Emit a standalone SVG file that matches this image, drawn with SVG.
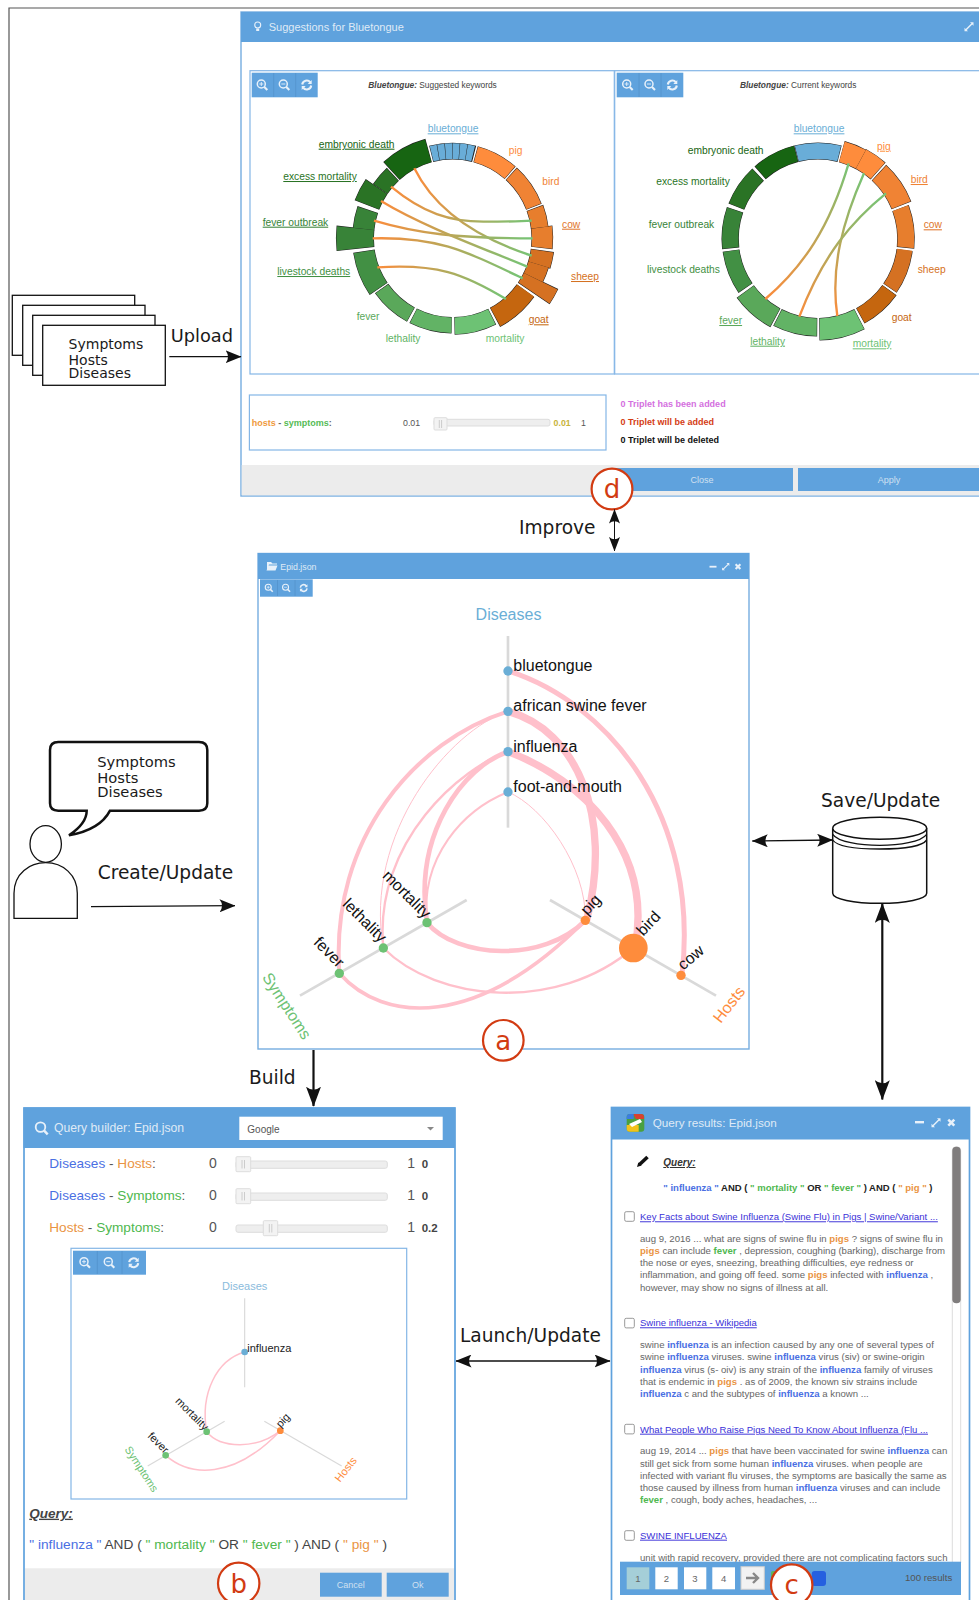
<svg xmlns="http://www.w3.org/2000/svg" width="979" height="1600" viewBox="0 0 979 1600">
<style>
text{font-family:"Liberation Sans",Arial,sans-serif}
.dj{font-family:"DejaVu Sans",sans-serif;fill:#1a1a1a}
.big{font-size:18.6px}
.doc{font-size:14px}
.bub{font-size:14.7px}
.u{text-decoration:underline}
.lb .u{text-decoration-color:#777}
.hd{fill:#5fa2dd}
.fr{fill:#fff;stroke:#76ade0;stroke-width:1.4}
.fb{fill:#fff;stroke:#5fa2dd;stroke-width:1.7}
.sub{fill:#fff;stroke:#84b6e6;stroke-width:1.2}
.wt{fill:#dfeaf6}
.ic{fill:none;stroke:#e8f1fa;stroke-width:1.5}
.ih{fill:none;stroke:#e8f1fa;stroke-width:2.1}
.is{fill:none;stroke:#e8f1fa;stroke-width:.9}
.div{stroke:#5392cc;stroke-width:.8}
.ol{fill:none;stroke:#222}
.sg{fill:none}
.lk{fill:none;stroke:#ffc0cb}
.ax{stroke:#d9d9d9;fill:none}
.cl{fill:#fff;stroke:#d23b12;stroke-width:2.2}
.clt{font-family:"DejaVu Sans",sans-serif;font-size:26px;fill:#d23b12;text-anchor:middle}
.lb{font-size:10.25px}
.k{font-size:16px;fill:#111}
.m{font-size:11px;fill:#222}
.tr{fill:#eee;stroke:#ddd;stroke-width:1}
.hn{fill:#f3f3f3;stroke:#ddd;stroke-width:1}
.bl{fill:#4a6fe3}.or{fill:#ea9443}.gr{fill:#4fb84f}
.sn{font-size:9.6px;fill:#666}
.sn tspan{font-weight:bold}
.lnk{font-size:9.55px;fill:#3a30d8;text-decoration:underline}
.cb{fill:#fff;stroke:#999;stroke-width:1}
.pg{fill:#fff}
.btx{font-size:9px;fill:#cfe0f1;text-anchor:middle}
.bk{stroke:#111;stroke-width:1.3;fill:#fff}
.c1{fill:none;stroke:#111;stroke-width:1.3}
.c2{fill:none;stroke:#111;stroke-width:2.2}
.c3{fill:none;stroke:#111;stroke-width:1}
</style>
<defs>
<linearGradient id="gh" x1="0" x2="1" y1="0" y2="0"><stop offset="0" stop-color="#fb8c3c"/><stop offset="1" stop-color="#74c476"/></linearGradient>
<linearGradient id="gv" x1="0" x2="0" y1="0" y2="1"><stop offset="0" stop-color="#74c476"/><stop offset="1" stop-color="#fb8c3c"/></linearGradient>
<marker id="ar" viewBox="0 0 16 14" preserveAspectRatio="none" refX="15.5" refY="7" markerUnits="userSpaceOnUse" markerWidth="16" markerHeight="13" orient="auto-start-reverse"><path d="M16,7 L0,0 Q5,7 0,14 Z" fill="#111"/></marker>
<marker id="as" viewBox="0 0 16 14" preserveAspectRatio="none" refX="15.5" refY="7" markerUnits="userSpaceOnUse" markerWidth="14.5" markerHeight="11" orient="auto-start-reverse"><path d="M16,7 L0,0 Q5,7 0,14 Z" fill="#111"/></marker>
<marker id="al" viewBox="0 0 16 14" preserveAspectRatio="none" refX="15.5" refY="7" markerUnits="userSpaceOnUse" markerWidth="20" markerHeight="15" orient="auto-start-reverse"><path d="M16,7 L0,0 Q5,7 0,14 Z" fill="#111"/></marker>
<g id="zi"><circle cx="-1" cy="-1" r="4" class="ic"/><path d="M2,2 L5,5" class="ih"/><path d="M-3,-1 H1 M-1,-3 V1" class="is"/></g>
<g id="zo"><circle cx="-1" cy="-1" r="4" class="ic"/><path d="M2,2 L5,5" class="ih"/><path d="M-3,-1 H1" class="is"/></g>
<g id="re"><path d="M-4.5,-.5 A4.5,4.5 0 0 1 3.6,-2.6 M4.5,.5 A4.5,4.5 0 0 1 -3.6,2.6" class="ih"/><path d="M5,-5 V-1 H1 Z M-5,5 V1 H-1 Z" fill="#e8f1fa"/></g>
<g id="ex"><path d="M-3,3 L3,-3" class="ic"/><path d="M1,-4.5 H4.5 V-1 Z M-1,4.5 H-4.5 V1 Z" fill="#e8f1fa"/></g>
<g id="cr"><path d="M-3,-3 L3,3 M3,-3 L-3,3" class="ih" style="stroke-width:2.6"/></g>
</defs>
<rect width="979" height="1600" fill="#fff"/>
<path d="M979,8 H9 V1600" fill="none" stroke="#555" stroke-width="1.2"/>

<g id="node-suggestions">
<rect x="241" y="12" width="745" height="484" class="fr"/>
<rect x="241" y="12" width="745" height="30" class="hd"/>
<rect x="241.7" y="465" width="745" height="30.3" fill="#ececec"/>
<circle cx="257.7" cy="25" r="3" fill="none" stroke="#e8f1fa" stroke-width="1.1"/><path d="M256.2,28.5 h3 v2.5 h-3 Z" fill="#e8f1fa"/>
<text x="268.7" y="30.7" font-size="11" class="wt">Suggestions for Bluetongue</text>
<use href="#ex" x="969" y="26.7"/>
<rect x="250" y="70.7" width="364.3" height="303.3" class="sub"/>
<rect x="614.7" y="70.7" width="370" height="303.3" class="sub"/>
<rect x="251.7" y="72.7" width="66" height="24.6" class="hd"/><path d="M273.7,73 V97 M295.7,73 V97" class="div"/>
<use href="#zi" x="262.3" y="85"/><use href="#zo" x="284.3" y="85"/><use href="#re" x="306.7" y="85"/>
<rect x="616.7" y="72.7" width="66.6" height="24.6" class="hd"/><path d="M639,73 V97 M661,73 V97" class="div"/>
<use href="#zi" x="627.7" y="85"/><use href="#zo" x="650" y="85"/><use href="#re" x="672.3" y="85"/>
<text x="368.3" y="87.7" font-size="8.35" fill="#444"><tspan font-weight="bold" font-style="italic">Bluetongue:</tspan> Suggested keywords</text>
<text x="740" y="87.7" font-size="8.35" fill="#444"><tspan font-weight="bold" font-style="italic">Bluetongue:</tspan> Current keywords</text>

<g id="chart-suggested" transform="translate(452.7 238.3)">
<g class="ol">
<circle r="87.15" pathLength="360" stroke-width="16.7" stroke-dasharray="28.6 332" transform="rotate(255.7)"/>
<circle r="87.15" pathLength="360" stroke-width="16.7" stroke-dasharray="26.1 334" transform="rotate(-74.8)"/>
<circle r="87.15" pathLength="360" stroke-width="16.7" stroke-dasharray="26.6 334" transform="rotate(-47.8)"/>
<circle r="87.65" pathLength="360" stroke-width="17.7" stroke-dasharray="13.6 347" transform="rotate(-20.3)"/>
<circle r="89.65" pathLength="360" stroke-width="21.7" stroke-dasharray="13.6 347" transform="rotate(-7.3)"/>
<circle r="90.5" pathLength="360" stroke-width="23.4" stroke-dasharray="9.6 351" transform="rotate(7.7)"/>
<circle r="89.65" pathLength="360" stroke-width="21.7" stroke-dasharray="9.6 351" transform="rotate(16.7)"/>
<circle r="98" pathLength="360" stroke-width="38.4" stroke-dasharray="8.6 352" transform="rotate(25.7)"/>
<circle r="89.65" pathLength="360" stroke-width="21.7" stroke-dasharray="26.2 334" transform="rotate(35.7)"/>
<circle r="87.65" pathLength="360" stroke-width="17.7" stroke-dasharray="25.7 335" transform="rotate(63.2)"/>
<circle r="87" pathLength="360" stroke-width="16.4" stroke-dasharray="26.4 334" transform="rotate(90.7)"/>
<circle r="87" pathLength="360" stroke-width="16.4" stroke-dasharray="26.1 334" transform="rotate(118.7)"/>
<circle r="89.65" pathLength="360" stroke-width="21.7" stroke-dasharray="26.1 334" transform="rotate(145.7)"/>
<circle r="97.8" pathLength="360" stroke-width="38" stroke-dasharray="12.6 348" transform="rotate(173.7)"/>
<circle r="89.65" pathLength="360" stroke-width="21.7" stroke-dasharray="13.1 347" transform="rotate(185.7)"/>
<circle r="92" pathLength="360" stroke-width="26.4" stroke-dasharray="13.1 347" transform="rotate(201.2)"/>
<circle r="87.65" pathLength="360" stroke-width="17.7" stroke-dasharray="12.8 348" transform="rotate(214.2)"/>
<circle r="91" pathLength="360" stroke-width="24.4" stroke-dasharray="27 333" transform="rotate(227.7)"/>
</g>
<g class="sg">
<circle r="87.15" pathLength="360" stroke="#69add8" stroke-width="15.7" stroke-dasharray="4.35 .3 4.35 .3 4.35 .3 4.35 .3 4.35 .3 4.35 340" transform="rotate(256)"/>
<circle r="87.15" pathLength="360" stroke="#fe8c3c" stroke-width="15.7" stroke-dasharray="25.5 335" transform="rotate(-74.5)"/>
<circle r="87.15" pathLength="360" stroke="#f08334" stroke-width="15.7" stroke-dasharray="26 334" transform="rotate(-47.5)"/>
<circle r="87.65" pathLength="360" stroke="#e77e2d" stroke-width="16.7" stroke-dasharray="13 347" transform="rotate(-20)"/>
<circle r="89.65" pathLength="360" stroke="#e77e2d" stroke-width="20.7" stroke-dasharray="13 347" transform="rotate(-7)"/>
<circle r="90.5" pathLength="360" stroke="#d57122" stroke-width="22.4" stroke-dasharray="9 351" transform="rotate(8)"/>
<circle r="89.65" pathLength="360" stroke="#d57122" stroke-width="20.7" stroke-dasharray="9 351" transform="rotate(17)"/>
<circle r="98" pathLength="360" stroke="#d57122" stroke-width="37.4" stroke-dasharray="8 352" transform="rotate(26)"/>
<circle r="89.65" pathLength="360" stroke="#c5660f" stroke-width="20.7" stroke-dasharray="25.6 334" transform="rotate(36)"/>
<circle r="87.65" pathLength="360" stroke="#6dc274" stroke-width="16.7" stroke-dasharray="25.1 335" transform="rotate(63.5)"/>
<circle r="87" pathLength="360" stroke="#62b365" stroke-width="15.4" stroke-dasharray="25.8 334" transform="rotate(91)"/>
<circle r="87" pathLength="360" stroke="#5aa85a" stroke-width="15.4" stroke-dasharray="25.5 335" transform="rotate(119)"/>
<circle r="89.65" pathLength="360" stroke="#429044" stroke-width="20.7" stroke-dasharray="25.5 335" transform="rotate(146)"/>
<circle r="97.8" pathLength="360" stroke="#388338" stroke-width="37" stroke-dasharray="12 348" transform="rotate(174)"/>
<circle r="89.65" pathLength="360" stroke="#388338" stroke-width="20.7" stroke-dasharray="12.5 348" transform="rotate(186)"/>
<circle r="92" pathLength="360" stroke="#2a7325" stroke-width="25.4" stroke-dasharray="12.5 348" transform="rotate(201.5)"/>
<circle r="87.65" pathLength="360" stroke="#2a7325" stroke-width="16.7" stroke-dasharray="12.2 348" transform="rotate(214.5)"/>
<circle r="91" pathLength="360" stroke="#176512" stroke-width="23.4" stroke-dasharray="26.4 334" transform="rotate(228)"/>
</g>
</g>
<g transform="translate(230 0) scale(.33333)" fill="none" stroke="url(#gh)" stroke-width="7">
<path d="M553,505 C620,640 760,720 905,767"/>
<path d="M483,560 C580,640 660,665 760,665 S860,665 905,662"/>
<path d="M453,603 C580,680 760,745 892,800"/>
<path d="M432,662 C560,700 680,715 908,715"/>
<path d="M428,715 C620,710 700,750 878,835"/>
<path d="M442,802 C620,790 700,820 828,897"/>
</g>
<g class="lb">
<text x="427.7" y="132.3" fill="#6aaed6" class="u">bluetongue</text>
<text x="508.7" y="154.3" fill="#fe8c3c">pig</text>
<text x="542.3" y="185" fill="#f08334">bird</text>
<text x="562" y="227.7" fill="#e0752a" class="u">cow</text>
<text x="571" y="280" fill="#d57122" class="u">sheep</text>
<text x="528.7" y="323.3" fill="#c5660f" class="u">goat</text>
<text x="485.7" y="341.7" fill="#6dc274">mortality</text>
<text x="385.7" y="341.7" fill="#62b365">lethality</text>
<text x="356.7" y="320" fill="#5aa85a">fever</text>
<text x="277.3" y="275" fill="#429044" class="u">livestock deaths</text>
<text x="262.7" y="225.7" fill="#388338" class="u">fever outbreak</text>
<text x="283.3" y="180" fill="#2a7325" class="u">excess mortality</text>
<text x="318.7" y="147.7" fill="#176512" class="u">embryonic death</text>
</g>

<g id="chart-current" transform="translate(818 238.7)">
<g class="ol">
<circle r="87.7" pathLength="360" stroke-width="17" stroke-dasharray="28.6 332" transform="rotate(255.7)"/>
<circle r="90.2" pathLength="360" stroke-width="22" stroke-dasharray="13.4 347" transform="rotate(-74.7)"/>
<circle r="90.5" pathLength="360" stroke-width="22.6" stroke-dasharray="13.6 347" transform="rotate(-61.9)"/>
<circle r="89.85" pathLength="360" stroke-width="21.3" stroke-dasharray="25.6 335" transform="rotate(-47.3)"/>
<circle r="88" pathLength="360" stroke-width="17.6" stroke-dasharray="26.3 334" transform="rotate(-20.3)"/>
<circle r="87.35" pathLength="360" stroke-width="16.3" stroke-dasharray="27.1 333" transform="rotate(7.5)"/>
<circle r="88" pathLength="360" stroke-width="17.6" stroke-dasharray="25.6 335" transform="rotate(35.7)"/>
<circle r="90.5" pathLength="360" stroke-width="22.6" stroke-dasharray="26.5 334" transform="rotate(62.7)"/>
<circle r="88.5" pathLength="360" stroke-width="18.6" stroke-dasharray="26.8 334" transform="rotate(90.5)"/>
<circle r="89.85" pathLength="360" stroke-width="21.3" stroke-dasharray="25.8 335" transform="rotate(118.3)"/>
<circle r="87.7" pathLength="360" stroke-width="17" stroke-dasharray="26.6 334" transform="rotate(145.7)"/>
<circle r="87.85" pathLength="360" stroke-width="17.3" stroke-dasharray="25.6 335" transform="rotate(173.7)"/>
<circle r="87.7" pathLength="360" stroke-width="17" stroke-dasharray="25.6 335" transform="rotate(201.4)"/>
<circle r="87.7" pathLength="360" stroke-width="17" stroke-dasharray="27 333" transform="rotate(228.7)"/>
</g>
<g class="sg">
<circle r="87.7" pathLength="360" stroke="#69add8" stroke-width="16" stroke-dasharray="28 332" transform="rotate(256)"/>
<circle r="90.2" pathLength="360" stroke="#fe8c3c" stroke-width="21" stroke-dasharray="12.8 347" transform="rotate(-74.4)"/>
<circle r="90.5" pathLength="360" stroke="#fe8c3c" stroke-width="21.6" stroke-dasharray="13 347" transform="rotate(-61.6)"/>
<circle r="89.85" pathLength="360" stroke="#f08334" stroke-width="20.3" stroke-dasharray="25 335" transform="rotate(-47)"/>
<circle r="88" pathLength="360" stroke="#e77e2d" stroke-width="16.6" stroke-dasharray="25.7 334" transform="rotate(-20)"/>
<circle r="87.35" pathLength="360" stroke="#d57122" stroke-width="15.3" stroke-dasharray="26.5 333" transform="rotate(7.8)"/>
<circle r="88" pathLength="360" stroke="#c5660f" stroke-width="16.6" stroke-dasharray="25 335" transform="rotate(36)"/>
<circle r="90.5" pathLength="360" stroke="#6dc274" stroke-width="21.6" stroke-dasharray="25.9 334" transform="rotate(63)"/>
<circle r="88.5" pathLength="360" stroke="#62b365" stroke-width="17.6" stroke-dasharray="26.2 334" transform="rotate(90.8)"/>
<circle r="89.85" pathLength="360" stroke="#5aa85a" stroke-width="20.3" stroke-dasharray="25.2 335" transform="rotate(118.6)"/>
<circle r="87.7" pathLength="360" stroke="#429044" stroke-width="16" stroke-dasharray="26 334" transform="rotate(146)"/>
<circle r="87.85" pathLength="360" stroke="#388338" stroke-width="16.3" stroke-dasharray="25 335" transform="rotate(174)"/>
<circle r="87.7" pathLength="360" stroke="#2a7325" stroke-width="16" stroke-dasharray="25 335" transform="rotate(201.7)"/>
<circle r="87.7" pathLength="360" stroke="#176512" stroke-width="16" stroke-dasharray="26.4 334" transform="rotate(229)"/>
</g>
</g>
<g transform="translate(610 0) scale(.33333)" fill="none" stroke="url(#gv)" stroke-width="7">
<path d="M716,490 C660,680 580,800 466,897"/>
<path d="M762,520 C700,660 660,800 682,948"/>
<path d="M828,580 C730,660 640,760 568,950"/>
</g>
<g class="lb">
<text x="793.7" y="132.3" fill="#6aaed6" class="u">bluetongue</text>
<text x="877" y="149.7" fill="#fe8c3c" class="u">pig</text>
<text x="910.7" y="183" fill="#f08334" class="u">bird</text>
<text x="923.7" y="228.3" fill="#e0752a" class="u">cow</text>
<text x="917.7" y="272.7" fill="#d57122">sheep</text>
<text x="891.7" y="320.7" fill="#c5660f">goat</text>
<text x="852.7" y="347.3" fill="#6dc274" class="u">mortality</text>
<text x="750.3" y="344.7" fill="#62b365" class="u">lethality</text>
<text x="719.3" y="324" fill="#5aa85a" class="u">fever</text>
<text x="647" y="272.7" fill="#429044">livestock deaths</text>
<text x="648.7" y="228" fill="#388338">fever outbreak</text>
<text x="656.3" y="185" fill="#2a7325">excess mortality</text>
<text x="687.7" y="154" fill="#176512">embryonic death</text>
</g>

<rect x="249.4" y="395" width="356.6" height="55" class="sub"/>
<text x="251.8" y="425.7" font-size="9" font-weight="bold"><tspan fill="#ef9a3c">hosts</tspan><tspan fill="#666"> - </tspan><tspan fill="#55bb55">symptoms</tspan><tspan fill="#666">:</tspan></text>
<text x="403" y="425.7" font-size="8.8" fill="#555">0.01</text>
<rect x="434" y="419.3" width="116" height="6.7" rx="2" class="tr"/>
<rect x="434" y="417.7" width="13" height="12.3" rx="1" class="hn"/><path d="M439.3,420 V428 M441.6,420 V428" stroke="#ccc"/>
<text x="553.6" y="425.7" font-size="8.8" font-weight="bold" fill="#c8b43c">0.01</text>
<text x="581" y="425.7" font-size="8.8" fill="#555">1</text>
<text x="620.6" y="406.7" font-size="9" font-weight="bold" fill="#d46fe0">0 Triplet has been added</text>
<text x="620.6" y="425" font-size="9" font-weight="bold" fill="#d43c14">0 Triplet will be added</text>
<text x="620.6" y="443" font-size="9" font-weight="bold" fill="#111">0 Triplet will be deleted</text>
<rect x="612" y="468" width="181" height="23" class="hd"/>
<rect x="798" y="468" width="185" height="23" class="hd"/>
<text x="702" y="482.7" class="btx">Close</text>
<text x="889" y="482.7" class="btx">Apply</text>
<circle cx="612" cy="489" r="20.4" class="cl"/><text x="612" y="498" class="clt">d</text>
</g>

<g id="node-epid">
<rect x="258" y="553.5" width="491" height="495.5" class="fr"/>
<rect x="258" y="553" width="491" height="26" class="hd"/>
<path d="M267,562 h4 l1.5,1.5 h4.5 v1 h-8 l-2,5 Z M268.5,565.5 h9 l-2,5 h-9 Z" fill="#e8f1fa"/>
<text x="280.3" y="570" font-size="8.8" class="wt">Epid.json</text>
<rect x="709.5" y="565.8" width="7" height="1.8" fill="#e8f1fa"/>
<use href="#ex" transform="translate(725.7 566.7) scale(.8)"/>
<use href="#cr" transform="translate(738 566.7) scale(.8)"/>
<rect x="260" y="579.3" width="52.7" height="17.4" class="hd"/><path d="M277.5,580 V596 M295,580 V596" class="div"/>
<use href="#zi" transform="translate(269 588) scale(.75)"/><use href="#zo" transform="translate(286.3 588) scale(.75)"/><use href="#re" transform="translate(303.7 588) scale(.75)"/>
<g transform="translate(250 550) scale(.33333)">
<g class="ax" stroke-width="8"><path d="M774,258 V833"/><path d="M150,1337 L650,1050"/><path d="M900,1050 L1398,1337"/></g>
<g class="lk">
<path stroke-width="15" d="M774,363 C1080,460 1350,800 1296,1276"/>
<path stroke-width="22" d="M774,484 C980,540 1090,800 1010,1111"/>
<path stroke-width="22" d="M774,605 C1000,690 1210,900 1155,1194"/>
<path stroke-width="3" d="M774,726 C880,770 1010,950 1006,1111"/>
<path stroke-width="12" d="M774,484 C500,570 240,860 268,1270"/>
<path stroke-width="3" d="M774,484 C600,540 340,850 400,1194"/>
<path stroke-width="7" d="M774,605 C640,650 370,870 400,1194"/>
<path stroke-width="14" d="M774,605 C640,650 490,850 531,1118"/>
<path stroke-width="6" d="M774,726 C640,780 510,920 531,1118"/>
<path stroke-width="14" d="M531,1118 C620,1225 880,1240 1006,1111"/>
<path stroke-width="7" d="M400,1194 C560,1355 920,1390 1150,1194"/>
<path stroke-width="11" d="M268,1270 C400,1420 680,1440 1006,1111"/>
</g>
<g fill="#6aaed6"><circle cx="774" cy="363" r="14"/><circle cx="774" cy="484" r="14"/><circle cx="774" cy="605" r="14"/><circle cx="774" cy="726" r="14"/></g>
<g fill="#6dc274"><circle cx="268" cy="1270" r="14"/><circle cx="400" cy="1194" r="14"/><circle cx="531" cy="1118" r="14"/></g>
<g fill="#fe8c3c"><circle cx="1006" cy="1111" r="14"/><circle cx="1150" cy="1194" r="43"/><circle cx="1293" cy="1276" r="14"/></g>
</g>
<text x="508.5" y="619.5" font-size="16" fill="#6aaed6" text-anchor="middle">Diseases</text>
<text x="513.3" y="671" class="k">bluetongue</text>
<text x="513.3" y="711" class="k">african swine fever</text>
<text x="513.3" y="751.5" class="k">influenza</text>
<text x="513.3" y="791.5" class="k">foot-and-mouth</text>
<text class="k" transform="translate(312.7 943.3) rotate(45)">fever</text>
<text class="k" transform="translate(341.7 905) rotate(45)">lethality</text>
<text class="k" transform="translate(381.7 876.7) rotate(45)">mortality</text>
<text class="k" transform="translate(587.3 916) rotate(-47)">pig</text>
<text class="k" transform="translate(643.3 936.7) rotate(-47)">bird</text>
<text class="k" transform="translate(683.3 970.7) rotate(-40)">cow</text>
<text font-size="16" fill="#6dc274" transform="translate(261.7 977.3) rotate(57)">Symptoms</text>
<text font-size="16" fill="#fe8c3c" transform="translate(720.7 1024) rotate(-52)">Hosts</text>
<circle cx="503.3" cy="1040.3" r="20.3" class="cl"/><text x="503.3" y="1049.5" class="clt">a</text>
</g>

<g id="node-query-builder">
<rect x="24" y="1108" width="431" height="500" class="fb"/>
<rect x="23.5" y="1107.5" width="431.5" height="40.5" class="hd"/>
<g transform="translate(41.7 1128.3) scale(1.2)"><circle cx="-1" cy="-1" r="4" class="ic"/><path d="M2,2 L5,5" class="ih"/></g>
<text x="54" y="1132" font-size="12.2" class="wt">Query builder: Epid.json</text>
<rect x="239.3" y="1116.7" width="203.4" height="23.3" fill="#fff"/>
<text x="247.3" y="1133.3" font-size="10" fill="#555">Google</text>
<path d="M427,1127 h7 l-3.5,3.5 Z" fill="#888"/>
<text x="49.3" y="1168.3" font-size="13.6"><tspan class="bl">Diseases</tspan><tspan fill="#555"> - </tspan><tspan class="or">Hosts</tspan><tspan fill="#555">:</tspan></text>
<text x="49.3" y="1200.3" font-size="13.6"><tspan class="bl">Diseases</tspan><tspan fill="#555"> - </tspan><tspan class="gr">Symptoms</tspan><tspan fill="#555">:</tspan></text>
<text x="49.3" y="1232.3" font-size="13.6"><tspan class="or">Hosts</tspan><tspan fill="#555"> - </tspan><tspan class="gr">Symptoms</tspan><tspan fill="#555">:</tspan></text>
<g font-size="14" fill="#555"><text x="209" y="1168.3">0</text><text x="209" y="1200.3">0</text><text x="209" y="1232.3">0</text><text x="407.3" y="1168.3">1</text><text x="407.3" y="1200.3">1</text><text x="407.3" y="1232.3">1</text></g>
<g font-size="11.5" font-weight="bold" fill="#444"><text x="421.7" y="1168">0</text><text x="421.7" y="1200">0</text><text x="421.7" y="1232">0.2</text></g>
<rect x="236" y="1161" width="151.3" height="7.3" rx="2" class="tr"/><rect x="236" y="1193" width="151.3" height="7.3" rx="2" class="tr"/><rect x="236" y="1225" width="151.3" height="7.3" rx="2" class="tr"/>
<rect x="236" y="1156.7" width="14.7" height="15" rx="1" class="hn"/><rect x="236" y="1188.7" width="14.7" height="15" rx="1" class="hn"/><rect x="263.3" y="1220.7" width="14.4" height="15" rx="1" class="hn"/>
<path d="M242,1160 V1168.5 M244.5,1160 V1168.5 M242,1192 V1200.5 M244.5,1192 V1200.5 M269.3,1224 V1232.5 M271.8,1224 V1232.5" stroke="#ccc"/>
<rect x="71" y="1248.3" width="335.7" height="250.7" class="sub"/>
<rect x="73" y="1250.7" width="73" height="24" class="hd"/><path d="M97.3,1251 V1274 M122,1251 V1274" class="div"/>
<use href="#zi" x="85" y="1262.7"/><use href="#zo" x="109.3" y="1262.7"/><use href="#re" x="133.7" y="1262.7"/>
<g transform="translate(10 1100) scale(.33333)">
<g class="ax" stroke-width="3.5"><path d="M704,595 V862"/><path d="M413,1098 L644,964"/><path d="M763,964 L995,1098"/></g>
<g class="lk" stroke-width="4.5">
<path d="M704,756 C620,780 570,880 590,995"/>
<path d="M590,995 C630,1045 740,1050 811,992"/>
<path d="M467,1066 C540,1130 670,1140 811,992"/>
</g>
<circle cx="704" cy="756" r="10" fill="#6aaed6"/>
<circle cx="590" cy="995" r="10" fill="#6dc274"/><circle cx="467" cy="1066" r="10" fill="#6dc274"/>
<circle cx="811" cy="992" r="10" fill="#fe8c3c"/>
</g>
<text x="244.7" y="1290" font-size="11" fill="#8abbdc" text-anchor="middle">Diseases</text>
<text x="247.3" y="1351.7" class="m">influenza</text>
<text class="m" transform="translate(174.7 1401.7) rotate(45)">mortality</text>
<text class="m" transform="translate(147 1436.7) rotate(45)">fever</text>
<text class="m" transform="translate(280.7 1428.3) rotate(-48)">pig</text>
<text font-size="11" fill="#6dc274" transform="translate(124.3 1449.3) rotate(57)">Symptoms</text>
<text font-size="11" fill="#fe8c3c" transform="translate(340 1482.7) rotate(-52)">Hosts</text>
<text x="29.3" y="1517.7" font-size="13.5" font-weight="bold" font-style="italic" fill="#444" class="u">Query:</text>
<text x="29.3" y="1549" font-size="13.7" fill="#444"><tspan class="bl">" influenza "</tspan> AND ( <tspan class="gr">" mortality "</tspan> OR <tspan class="gr">" fever "</tspan> ) AND ( <tspan class="or">" pig "</tspan> )</text>
<rect x="25" y="1568.3" width="429" height="32" fill="#ececec"/>
<rect x="320" y="1572.7" width="61.7" height="24" class="hd"/><rect x="386.7" y="1572.7" width="62" height="24" class="hd"/>
<text x="350.8" y="1588" class="btx">Cancel</text><text x="417.7" y="1588" class="btx">Ok</text>
<circle cx="238.7" cy="1583.3" r="20.7" class="cl"/><text x="238.7" y="1592.5" class="clt">b</text>
</g>

<g id="node-query-results">
<rect x="611.5" y="1107.5" width="358" height="500" class="fb"/>
<rect x="611.3" y="1107" width="358" height="32.5" class="hd"/>
<rect x="626.7" y="1114" width="17.6" height="17.7" rx="3" fill="#49a03f"/>
<path d="M633,1114 h8 a3,3 0 0 1 3,3 v2 h-8 Z" fill="#d8412f"/><path d="M626.7,1119 v-2 a3,3 0 0 1 3,-3 h4 v5 Z" fill="#3b7de0"/><path d="M626.7,1125 h12 v6.7 h-9 a3,3 0 0 1 -3,-3 Z" fill="#f2c21c"/><path d="M629,1124 L640,1119 L642,1122 L632,1127 Z" fill="#fff"/>
<text x="652.7" y="1126.7" font-size="11.7" class="wt">Query results: Epid.json</text>
<rect x="915" y="1121" width="9" height="2.4" fill="#e8f1fa"/>
<use href="#ex" x="936" y="1122.7"/>
<use href="#cr" x="951.3" y="1122.7"/>
<rect x="952.3" y="1146.7" width="8.4" height="420" rx="4" fill="#fff" stroke="#ddd"/>
<rect x="952.3" y="1146.7" width="8.4" height="156.6" rx="4" fill="#807d7d"/>
<path d="M639.5,1164.5 L647.5,1157" stroke="#111" stroke-width="3.6"/><path d="M637,1167 L638.3,1162.5 L641.6,1165.6 Z" fill="#111"/>
<text x="663.3" y="1166" font-size="10" font-weight="bold" font-style="italic" fill="#333" class="u">Query:</text>
<text x="663.3" y="1191" font-size="9.5" font-weight="bold" fill="#222"><tspan class="bl">" influenza "</tspan> AND ( <tspan class="gr">" mortality "</tspan> OR <tspan class="gr">" fever "</tspan> ) AND ( <tspan class="or">" pig "</tspan> )</text>
<rect x="624.7" y="1211.7" width="9.6" height="9.6" rx="1.5" class="cb"/>
<text x="640" y="1220.3" class="lnk">Key Facts about Swine Influenza (Swine Flu) in Pigs | Swine/Variant ...</text>
<g class="sn">
<text x="640" y="1241.7">aug 9, 2016 ... what are signs of swine flu in <tspan class="or">pigs</tspan> ? signs of swine flu in</text>
<text x="640" y="1254"><tspan class="or">pigs</tspan> can include <tspan class="gr">fever</tspan> , depression, coughing (barking), discharge from</text>
<text x="640" y="1266">the nose or eyes, sneezing, breathing difficulties, eye redness or</text>
<text x="640" y="1278.3">inflammation, and going off feed. some <tspan class="or">pigs</tspan> infected with <tspan class="bl">influenza</tspan> ,</text>
<text x="640" y="1290.7">however, may show no signs of illness at all.</text>
</g>
<rect x="624.7" y="1318.3" width="9.6" height="9.6" rx="1.5" class="cb"/>
<text x="640" y="1326.3" class="lnk">Swine influenza - Wikipedia</text>
<g class="sn">
<text x="640" y="1348.3">swine <tspan class="bl">influenza</tspan> is an infection caused by any one of several types of</text>
<text x="640" y="1360.3">swine <tspan class="bl">influenza</tspan> viruses. swine <tspan class="bl">influenza</tspan> virus (siv) or swine-origin</text>
<text x="640" y="1372.7"><tspan class="bl">influenza</tspan> virus (s- oiv) is any strain of the <tspan class="bl">influenza</tspan> family of viruses</text>
<text x="640" y="1384.7">that is endemic in <tspan class="or">pigs</tspan> . as of 2009, the known siv strains include</text>
<text x="640" y="1397"><tspan class="bl">influenza</tspan> c and the subtypes of <tspan class="bl">influenza</tspan> a known ...</text>
</g>
<rect x="624.7" y="1424.3" width="9.6" height="9.6" rx="1.5" class="cb"/>
<text x="640" y="1432.7" class="lnk">What People Who Raise Pigs Need To Know About Influenza (Flu ...</text>
<g class="sn">
<text x="640" y="1454.3">aug 19, 2014 ... <tspan class="or">pigs</tspan> that have been vaccinated for swine <tspan class="bl">influenza</tspan> can</text>
<text x="640" y="1466.7">still get sick from some human <tspan class="bl">influenza</tspan> viruses. when people are</text>
<text x="640" y="1478.7">infected with variant flu viruses, the symptoms are basically the same as</text>
<text x="640" y="1491">those caused by illness from human <tspan class="bl">influenza</tspan> viruses and can include</text>
<text x="640" y="1503.3"><tspan class="gr">fever</tspan> , cough, body aches, headaches, ...</text>
</g>
<rect x="624.7" y="1530.7" width="9.6" height="9.6" rx="1.5" class="cb"/>
<text x="640" y="1538.7" class="lnk">SWINE INFLUENZA</text>
<text x="640" y="1560.7" class="sn">unit with rapid recovery, provided there are not complicating factors such</text>
<rect x="620" y="1561.7" width="341" height="33.3" class="hd"/>
<rect x="626.7" y="1567.3" width="22.6" height="22" fill="#a5cfd8"/>
<rect x="655.3" y="1567.3" width="22.4" height="22" class="pg"/><rect x="684" y="1567.3" width="22.3" height="22" class="pg"/><rect x="712.3" y="1567.3" width="22.7" height="22" class="pg"/>
<rect x="741" y="1566.7" width="23.3" height="22.6" fill="#f2f2f2" stroke="#ccc"/>
<path d="M746,1578 h12 M753,1573 l5,5 l-5,5" fill="none" stroke="#888" stroke-width="2.4"/>
<g font-size="9.5" fill="#666" text-anchor="middle"><text x="638" y="1581.5">1</text><text x="666.5" y="1581.5">2</text><text x="695" y="1581.5">3</text><text x="723.7" y="1581.5">4</text></g>
<rect x="771" y="1571" width="8" height="15" rx="2" fill="#5cb85c"/>
<rect x="811.7" y="1571" width="14.3" height="15" rx="3" fill="#2560e0"/>
<text x="952.3" y="1581.3" font-size="9.7" fill="#555" text-anchor="end">100 results</text>
<circle cx="791.7" cy="1585" r="20.7" class="cl"/><text x="791.7" y="1594" class="clt">c</text>
</g>

<g id="node-documents">
<rect x="12.3" y="295.3" width="122.4" height="60" class="bk"/>
<rect x="22.7" y="305.3" width="122.3" height="60" class="bk"/>
<rect x="32.7" y="315.3" width="122.3" height="60" class="bk"/>
<rect x="42.7" y="325.3" width="122.6" height="60" class="bk"/>
<text x="68.6" y="349.3" class="dj doc">Symptoms</text>
<text x="68.6" y="364.6" class="dj doc">Hosts</text>
<text x="68.6" y="378" class="dj doc">Diseases</text>
</g>

<g id="node-user">
<ellipse cx="45.7" cy="844" rx="15.7" ry="18.3" class="bk"/>
<path d="M14,918.3 V893.3 C14,873 30,862.7 45.7,862.7 C63,862.7 77.3,875 77.3,893.3 V918.3 Z" class="bk"/>
<path d="M50,750 Q50,742 58.3,742 H199 Q207.3,742 207.3,750 V803.3 Q207.3,810.7 199,810.7 H110 Q100,830 69,835.3 Q86.7,823.3 86.7,810.7 H58.3 Q50,810.7 50,803.3 Z" fill="#fff" stroke="#111" stroke-width="2.5"/>
<text x="97.3" y="767.3" class="dj bub">Symptoms</text>
<text x="97.3" y="783.3" class="dj bub">Hosts</text>
<text x="97.3" y="796.7" class="dj bub">Diseases</text>
</g>

<g id="node-database">
<path d="M832.7,828.3 V893.3 C832.7,899 853.7,903.3 879.7,903.3 S926.7,899 926.7,893.3 V828.3" fill="#fff" stroke="#111" stroke-width="1.5"/>
<ellipse cx="879.7" cy="828.3" rx="47" ry="11" fill="#fff" stroke="#111" stroke-width="1.5"/>
<path d="M832.7,834.3 C838,842 860,845.3 879.7,845.3 S921,842 926.7,834.3 M832.7,840 C838,848 860,849 879.7,849 S921,848 926.7,840" fill="none" stroke="#111" stroke-width="1.3"/>
</g>

<g id="connectors">
<path d="M169.3,356.7 H241" class="c1" marker-end="url(#ar)"/>
<path d="M91,906.7 L235,905.7" class="c1" marker-end="url(#ar)"/>
<path d="M752.3,841 L832.7,840" class="c1" marker-start="url(#ar)" marker-end="url(#ar)"/>
<path d="M882.3,903.5 V1099.5" class="c2" marker-start="url(#al)" marker-end="url(#al)"/>
<path d="M614.5,509.5 V551" class="c3" marker-start="url(#as)" marker-end="url(#as)"/>
<path d="M313.5,1050 V1106" class="c2" marker-end="url(#al)"/>
<path d="M456,1361 L610,1361" class="c1" marker-start="url(#ar)" marker-end="url(#ar)"/>
<text x="170.7" y="341.7" class="dj" font-size="17.8">Upload</text>
<text x="97.7" y="879.3" class="dj big">Create/Update</text>
<text x="821" y="806.7" class="dj big">Save/Update</text>
<text x="519" y="534" class="dj big">Improve</text>
<text x="249" y="1084" class="dj big">Build</text>
<text x="460" y="1342" class="dj big">Launch/Update</text>
</g>
</svg>
